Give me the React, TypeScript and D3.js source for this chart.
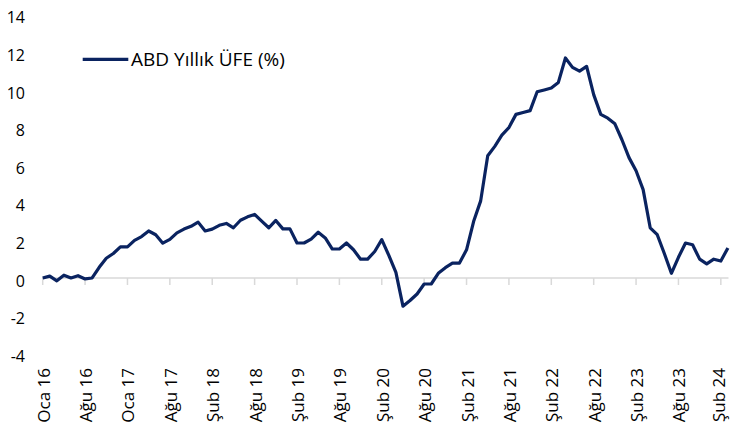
import React from "react";
import * as d3 from "d3";

const seriesName = "ABD Yıllık ÜFE (%)";

const values: number[] = [
  0.0, 0.1, -0.15, 0.15, 0.0, 0.12, -0.05, 0.0, 0.57, 1.05, 1.3, 1.65,
  1.65, 2.0, 2.2, 2.5, 2.3, 1.85, 2.05, 2.4, 2.6, 2.75, 2.97, 2.5,
  2.6, 2.8, 2.9, 2.67, 3.07, 3.25, 3.38, 3.02, 2.67, 3.06, 2.61, 2.61,
  1.86, 1.86, 2.07, 2.43, 2.13, 1.54, 1.54, 1.86, 1.5, 1.0, 1.0, 1.41,
  2.04, 1.2, 0.3, -1.5, -1.2, -0.85, -0.32, -0.32, 0.25, 0.55, 0.79, 0.79,
  1.5, 3.0, 4.1, 6.5, 7.0, 7.6, 8.0, 8.7, 8.8, 8.9, 9.9, 10.0,
  10.1, 10.4, 11.7, 11.2, 11.0, 11.25, 9.75, 8.7, 8.5, 8.2, 7.35, 6.4,
  5.7, 4.7, 2.67, 2.3, 1.3, 0.25, 1.1, 1.86, 1.77, 1.0, 0.75, 1.0,
  0.9, 1.6,
];

const tickLabels: string[] = [
  "Oca 16", "Ağu 16", "Oca 17", "Ağu 17", "Şub 18", "Ağu 18", "Şub 19",
  "Ağu 19", "Şub 20", "Ağu 20", "Şub 21", "Ağu 21", "Şub 22", "Ağu 22",
  "Şub 23", "Ağu 23", "Şub 24",
];
const tickStep = 6;

const yTicks: number[] = [-4, -2, 0, 2, 4, 6, 8, 10, 12, 14];

const W = 730;
const H = 429;
const FONT = "'Open Sans', 'Noto Sans', sans-serif";

export default function App() {
  const x = d3.scaleLinear().domain([0, values.length - 1]).range([42.7, 727.9]);
  const y = d3.scaleLinear().domain([-4, 14]).range([353.2, 14.7]);

  const line = d3
    .line<number>()
    .x((_, i) => x(i))
    .y((d) => y(d))
    .curve(d3.curveLinear);

  const y0 = y(0);

  return (
    <svg
      width={W}
      height={H}
      style={{ position: "absolute", left: 0, top: 0, background: "#fff" }}
      fontFamily={FONT}
    >
      {/* zero axis */}
      <line x1={x(0)} x2={728.5} y1={y0} y2={y0} stroke="#d9d9d9" strokeWidth={1.5} />
      {tickLabels.map((lab, k) => {
        const xi = x(k * tickStep);
        const lx = Math.min(xi + 7, 724.5);
        return (
          <g key={lab}>
            <line x1={xi} x2={xi} y1={y0} y2={y0 + 7} stroke="#d9d9d9" strokeWidth={1.5} />
            <text
              transform={`translate(${lx},368) rotate(-90)`}
              textAnchor="end"
              fontSize={17}
              fill="#000"
            >
              {lab}
            </text>
          </g>
        );
      })}
      {/* y labels */}
      {yTicks.map((t) => (
        <text key={t} x={25} y={y(t) + 3} dy="0.35em" textAnchor="end" fontSize={16} fill="#000">
          {t}
        </text>
      ))}
      {/* series */}
      <path
        d={line(values) || ""}
        fill="none"
        stroke="#0a2360"
        strokeWidth={3.2}
        strokeLinejoin="round"
        strokeLinecap="butt"
      />
      {/* legend */}
      <line x1={82.7} x2={128.3} y1={59.3} y2={59.3} stroke="#0a2360" strokeWidth={3.2} />
      <text x={131} y={59.3} dy="0.35em" fontSize={19} fill="#000">
        {seriesName}
      </text>
    </svg>
  );
}
